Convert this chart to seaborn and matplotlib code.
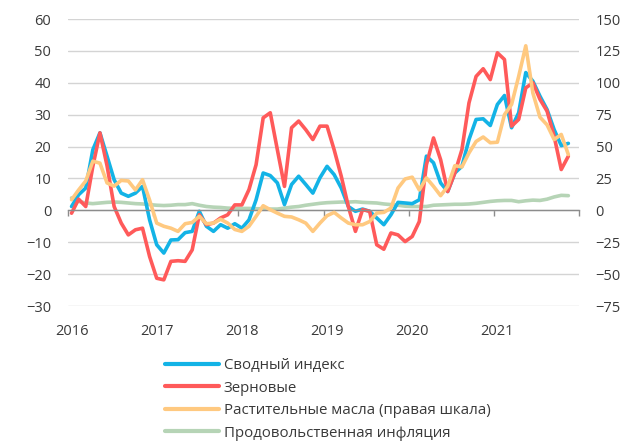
import numpy as np
import pandas as pd
import matplotlib
matplotlib.use("Agg")
import matplotlib.pyplot as plt
import seaborn as sns

# ---- data (monthly, Jan 2016 .. Nov 2021), y/y % ----
years = ["2016", "2017", "2018", "2019", "2020", "2021"]

composite = [1.2, 4.9, 7.0, 19.0, 24.3, 17.0, 9.6, 5.4, 4.4, 5.4, 7.5, -3.0,
             -10.8, -13.4, -9.3, -9.2, -7.0, -6.6, -0.3, -5.0, -6.6, -4.5, -5.6, -4.2,
             -5.6, -3.0, 3.3, 11.7, 10.9, 8.6, 1.8, 8.1, 10.7, 8.1, 5.4, 10.2,
             13.8, 11.2, 7.0, 1.2, -0.3, 0.4, -0.3, -2.4, -4.5, -1.4, 2.5, 2.3,
             2.1, 3.3, 17.0, 14.9, 8.6, 5.9, 11.7, 13.8, 22.2, 28.5, 28.7, 26.6,
             33.2, 36.0, 25.9, 30.6, 43.2, 40.5, 35.8, 31.6, 25.3, 20.3, 21.0]

cereals = [-0.9, 3.5, 1.2, 13.8, 24.3, 14.0, 1.2, -4.0, -7.7, -6.1, -5.6, -14.5,
           -21.3, -21.8, -16.0, -15.8, -16.0, -12.4, -1.4, -4.5, -4.0, -2.4, -1.4, 1.7,
           1.7, 6.5, 14.3, 29.0, 30.6, 19.0, 7.5, 25.9, 28.0, 25.3, 22.2, 26.4,
           26.4, 19.0, 10.7, 1.2, -6.6, 0.2, -0.3, -10.8, -12.2, -7.1, -7.7, -9.8,
           -8.2, -3.5, 14.3, 22.7, 15.9, 5.9, 11.7, 19.0, 33.7, 42.0, 44.4, 41.0,
           49.4, 47.3, 26.4, 28.5, 38.4, 40.0, 34.8, 31.1, 23.2, 12.8, 17.0]

veg_oils = [8.3, 16.0, 23.0, 38.5, 37.0, 21.5, 19.0, 23.5, 23.0, 16.0, 24.0, 8.0,
            -10.0, -12.5, -14.0, -16.5, -10.5, -9.5, -4.7, -10.5, -10.0, -7.0, -10.0, -15.0,
            -16.5, -12.5, -4.7, 3.6, 0.5, -2.2, -4.7, -5.2, -7.4, -10.0, -16.5, -10.0,
            -4.2, -1.6, -6.0, -10.0, -11.3, -11.3, -8.8, -2.1, -1.6, 1.8, 17.5, 24.6,
            26.0, 16.0, 25.4, 18.8, 11.5, 18.8, 35.0, 34.0, 45.0, 54.0, 57.5, 53.0,
            53.4, 75.0, 83.0, 105.0, 129.0, 92.0, 73.0, 67.0, 55.5, 59.5, 43.7]

food_infl = [3.9, 2.8, 2.3, 2.1, 2.3, 2.5, 2.6, 2.5, 2.3, 2.1, 2.0, 1.8,
             1.6, 1.5, 1.6, 1.8, 1.8, 2.1, 1.6, 1.2, 1.0, 0.9, 0.7, 0.6,
             0.6, 0.6, 0.5, 0.5, 0.4, 0.4, 0.7, 1.0, 1.2, 1.6, 1.9, 2.2,
             2.4, 2.5, 2.6, 2.6, 2.7, 2.5, 2.4, 2.3, 2.0, 1.8, 1.6, 1.3,
             1.2, 1.2, 1.2, 1.6, 1.7, 1.8, 1.9, 1.9, 2.0, 2.2, 2.5, 2.8,
             3.0, 3.1, 3.1, 2.7, 3.0, 3.2, 3.1, 3.5, 4.2, 4.7, 4.6]

labels = ["Сводный индекс", "Зерновые", "Растительные масла (правая шкала)",
          "Продовольственная инфляция"]
colors = ["#13b3e6", "#ff5a5a", "#ffc980", "#b6d4b6"]

months = np.arange(len(composite))
df = pd.DataFrame({"m": months, "composite": composite, "cereals": cereals,
                   "oils": veg_oils, "food": food_infl})

sns.set_theme(style="white")
plt.rcParams["font.family"] = ["Open Sans", "DejaVu Sans"]
txt = "#3a3a3a"

fig = plt.figure(figsize=(6.3, 4.44), dpi=100)
ax = fig.add_axes([68 / 630, 1 - 306 / 444, (579 - 68) / 630, (306 - 19) / 444])
ax2 = ax.twinx()

lw = 2.6
sns.lineplot(data=df, x="m", y="composite", ax=ax, color=colors[0], lw=lw, label=labels[0], legend=False)
sns.lineplot(data=df, x="m", y="cereals", ax=ax, color=colors[1], lw=lw, label=labels[1], legend=False)
sns.lineplot(data=df, x="m", y="food", ax=ax, color=colors[3], lw=lw, label=labels[3], legend=False, zorder=1)
sns.lineplot(data=df, x="m", y="oils", ax=ax2, color=colors[2], lw=lw, label=labels[2], legend=False)

ax.set_xlim(-0.5, 71.5)
ax.set_ylim(-30, 60)
ax2.set_ylim(-75, 150)
ax.set_yticks(np.arange(-30, 61, 10))
ax2.set_yticks(np.arange(-75, 151, 25))
ax.set_xlabel("")
ax.set_ylabel("")
ax2.set_ylabel("")

for a in (ax, ax2):
    for s in a.spines.values():
        s.set_visible(False)
ax.grid(axis="y", color="#d4d4d4", lw=1.0)
ax.grid(axis="x", visible=False)
ax2.grid(False)
ax.set_axisbelow(True)

ax.tick_params(axis="y", length=0, pad=12, labelsize=10.5, labelcolor=txt)
ax2.tick_params(axis="y", length=0, pad=12, labelsize=10.5, labelcolor=txt)

# zero line with year ticks
ax.spines["bottom"].set_visible(True)
ax.spines["bottom"].set_position(("data", 0))
ax.spines["bottom"].set_color("#8c8c8c")
ax.spines["bottom"].set_linewidth(1.0)
ax.set_xticks(np.arange(-0.5, 72, 12))
ax.tick_params(axis="x", direction="out", length=4, width=1, color="#8c8c8c",
               labelbottom=False, bottom=True)

sec = ax.secondary_xaxis("bottom")
sec.set_xticks(np.arange(0, 72, 12)[:len(years)])
sec.set_xticklabels(years)
sec.tick_params(length=0, pad=13, labelsize=10.5, labelcolor=txt)
sec.spines["bottom"].set_visible(False)

h1, l1 = ax.get_legend_handles_labels()
h2, l2 = ax2.get_legend_handles_labels()
hmap = dict(zip(l1 + l2, h1 + h2))
handles = [hmap[l] for l in labels]
leg = fig.legend(handles, labels, loc="upper left", bbox_to_anchor=(165 / 630, 1 - 358 / 444),
                 frameon=False, fontsize=10.8, handlelength=3.6, handletextpad=0.3,
                 labelspacing=0.5, borderpad=0, borderaxespad=0, labelcolor=txt)
for line in leg.get_lines():
    line.set_linewidth(3.0)

fig.savefig("out.png", dpi=100)
